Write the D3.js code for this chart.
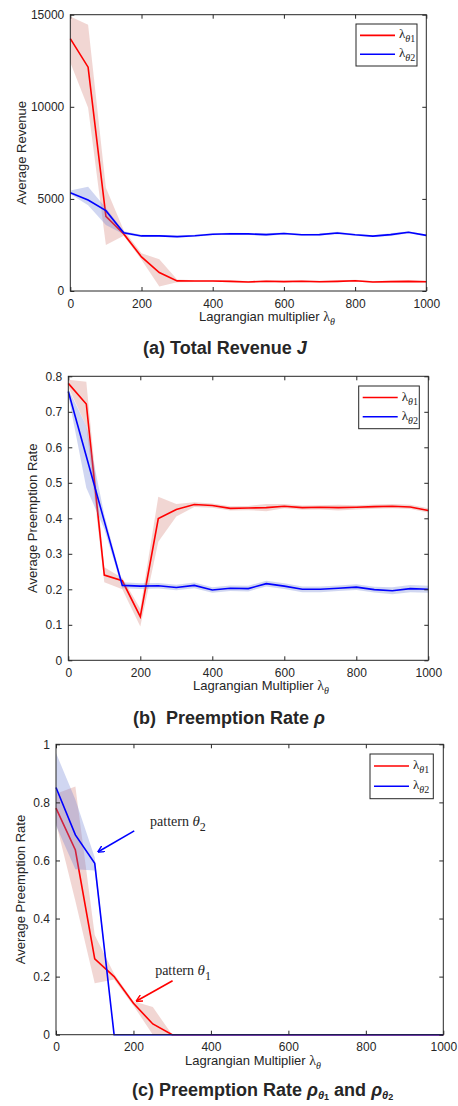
<!DOCTYPE html>
<html>
<head>
<meta charset="utf-8">
<script src="https://cdn.jsdelivr.net/npm/d3@7"></script>
<style>
  body { margin: 0; background: #fff; }
  svg { display: block; }
  text { font-family: Arial, "Liberation Sans", sans-serif; fill: #262626; }
</style>
</head>
<body>
<div id="chart"></div>
<script>
// x values shared by all three panels
const lambdas = [0, 50, 100, 150, 200, 250, 300, 350, 400, 450, 500, 550, 600, 650, 700, 750, 800, 850, 900, 950, 1000];

// (a) total revenue
const revRed   = [13700, 12150, 4050, 3100, 1850, 1000, 550, 540, 545, 520, 490, 530, 510, 530, 500, 520, 560, 490, 510, 520, 500];
const revRedLo = [12400, 9950, 2500, 3000, 1700, 250, 480, 490, 500, 470, 450, 480, 470, 480, 460, 470, 510, 450, 460, 470, 460];
const revRedHi = [14900, 14450, 5600, 3300, 2050, 1720, 620, 590, 590, 570, 540, 580, 560, 580, 550, 570, 610, 540, 560, 570, 550];
const revBlue   = [5340, 4940, 4360, 3165, 2990, 2990, 2950, 3000, 3080, 3110, 3100, 3060, 3120, 3050, 3060, 3150, 3050, 2980, 3060, 3190, 3020];
const revBlueLo = [5270, 4650, 3580, 3080, 2930, 2940, 2900, 2950, 3030, 3060, 3050, 2980, 3070, 3000, 3010, 3080, 3000, 2930, 2990, 3140, 2970];
const revBlueHi = [5450, 5660, 4500, 3250, 3050, 3040, 3000, 3050, 3130, 3160, 3150, 3140, 3170, 3100, 3110, 3220, 3100, 3030, 3130, 3240, 3070];

// (b) preemption rate
const preRed   = [0.780, 0.722, 0.240, 0.224, 0.123, 0.399, 0.425, 0.439, 0.436, 0.428, 0.429, 0.430, 0.434, 0.430, 0.431, 0.430, 0.431, 0.433, 0.434, 0.432, 0.422];
const preRedLo = [0.770, 0.660, 0.220, 0.200, 0.095, 0.334, 0.405, 0.432, 0.430, 0.422, 0.423, 0.420, 0.428, 0.424, 0.425, 0.422, 0.425, 0.427, 0.428, 0.426, 0.416];
const preRedHi = [0.790, 0.785, 0.262, 0.232, 0.145, 0.461, 0.440, 0.445, 0.442, 0.434, 0.435, 0.440, 0.440, 0.436, 0.437, 0.438, 0.437, 0.439, 0.440, 0.438, 0.428];
const preBlue   = [0.757, 0.575, 0.392, 0.211, 0.209, 0.210, 0.205, 0.211, 0.198, 0.203, 0.202, 0.216, 0.209, 0.200, 0.200, 0.203, 0.206, 0.199, 0.196, 0.202, 0.200];
const preBlueLo = [0.745, 0.486, 0.370, 0.203, 0.201, 0.202, 0.197, 0.203, 0.190, 0.195, 0.194, 0.208, 0.201, 0.192, 0.192, 0.195, 0.198, 0.191, 0.186, 0.192, 0.190];
const preBlueHi = [0.765, 0.660, 0.410, 0.220, 0.217, 0.218, 0.213, 0.219, 0.206, 0.211, 0.210, 0.224, 0.217, 0.208, 0.208, 0.211, 0.214, 0.207, 0.206, 0.212, 0.210];

// (c) preemption rate per pattern
const rhoRed   = [0.780, 0.636, 0.261, 0.200, 0.108, 0.037, 0, 0, 0, 0, 0, 0, 0, 0, 0, 0, 0, 0, 0, 0, 0];
const rhoRedLo = [0.730, 0.460, 0.177, 0.190, 0.100, 0, 0, 0, 0, 0, 0, 0, 0, 0, 0, 0, 0, 0, 0, 0, 0];
const rhoRedHi = [0.830, 0.855, 0.343, 0.210, 0.115, 0.095, 0, 0, 0, 0, 0, 0, 0, 0, 0, 0, 0, 0, 0, 0, 0];
const rhoBlue   = [0.851, 0.688, 0.590, 0, 0, 0, 0, 0, 0, 0, 0, 0, 0, 0, 0, 0, 0, 0, 0, 0, 0];
const rhoBlueLo = [0.720, 0.570, 0.565, 0, 0, 0, 0, 0, 0, 0, 0, 0, 0, 0, 0, 0, 0, 0, 0, 0, 0];
const rhoBlueHi = [0.970, 0.810, 0.610, 0, 0, 0, 0, 0, 0, 0, 0, 0, 0, 0, 0, 0, 0, 0, 0, 0, 0];

// tick labels
const xTicks = [0, 200, 400, 600, 800, 1000];
const revTicks = [0, 5000, 10000, 15000];
const preTicks = [0, 0.1, 0.2, 0.3, 0.4, 0.5, 0.6, 0.7, 0.8];
const rhoTicks = [0, 0.2, 0.4, 0.6, 0.8, 1];

// annotation arrows in panel c: [tail λ, tail ρ, tip λ, tip ρ, text λ, text ρ]
const noteTheta2 = [202, 0.702, 109, 0.630, 243, 0.720];
const noteTheta1 = [301, 0.186, 208, 0.116, 256, 0.206];

const W = 458, H = 1106;
const svg = d3.select("#chart").append("svg")
    .attr("width", W)
    .attr("height", H);

const defs = svg.append("defs");
["red", "blue"].forEach(c => {
    defs.append("marker")
        .attr("id", "arrow_" + c)
        .attr("viewBox", "0 0 10 10")
        .attr("refX", 9).attr("refY", 5)
        .attr("markerWidth", 7).attr("markerHeight", 7)
        .attr("markerUnits", "userSpaceOnUse")
        .attr("orient", "auto")
        .append("path")
        .attr("d", "M0,0 L10,5 L0,10")
        .attr("fill", "none")
        .attr("stroke", c === "red" ? "#ff0000" : "#0000ff")
        .attr("stroke-width", 2);
});

function band(lo, hi) {
    return lambdas.map((d, i) => ({x: d, lo: lo[i], hi: hi[i]}));
}

function drawPanel(p) {
    let x = d3.scaleLinear().domain([0, 1000]).range([p.left, p.right]);
    let y = d3.scaleLinear().domain(p.yDomain).range([p.bottom, p.top]);
    let g = svg.append("g");

    // shaded bands and mean lines
    let area = d3.area().x(d => x(d.x)).y0(d => y(d.lo)).y1(d => y(d.hi));
    let line = d3.line().x((d, i) => x(lambdas[i])).y(d => y(d));

    g.append("path").attr("d", area(band(p.redLo, p.redHi)))
        .attr("fill", "rgb(210,120,110)").attr("fill-opacity", 0.3);
    g.append("path").attr("d", line(p.red))
        .attr("fill", "none").attr("stroke", "#ff0000").attr("stroke-width", 1.6);
    g.append("path").attr("d", area(band(p.blueLo, p.blueHi)))
        .attr("fill", "rgb(100,120,210)").attr("fill-opacity", 0.3);
    g.append("path").attr("d", line(p.blue))
        .attr("fill", "none").attr("stroke", "#0000ff").attr("stroke-width", 1.6);

    // axes, ticks inside on all four sides
    let tl = 4;
    g.append("g").attr("transform", "translate(0," + p.bottom + ")")
        .call(d3.axisBottom(x).tickValues(xTicks).tickSizeInner(-tl).tickSizeOuter(0).tickPadding(8).tickFormat(d3.format("d")))
        .call(a => a.select(".domain").remove());
    g.append("g").attr("transform", "translate(0," + p.top + ")")
        .call(d3.axisTop(x).tickValues(xTicks).tickSizeInner(-tl).tickSizeOuter(0).tickFormat(""))
        .call(a => a.select(".domain").remove());
    g.append("g").attr("transform", "translate(" + p.left + ",0)")
        .call(d3.axisLeft(y).tickValues(p.yTicks).tickSizeInner(-tl).tickSizeOuter(0).tickPadding(6).tickFormat(d3.format("")))
        .call(a => a.select(".domain").remove());
    g.append("g").attr("transform", "translate(" + p.right + ",0)")
        .call(d3.axisRight(y).tickValues(p.yTicks).tickSizeInner(-tl).tickSizeOuter(0).tickFormat(""))
        .call(a => a.select(".domain").remove());
    g.selectAll(".tick line").attr("stroke", "#262626");
    g.selectAll(".tick text").style("font-size", "12px").attr("fill", "#262626")
        .style("font-family", "Arial, 'Liberation Sans', sans-serif");
    g.append("rect")
        .attr("x", p.left).attr("y", p.top)
        .attr("width", p.right - p.left).attr("height", p.bottom - p.top)
        .attr("fill", "none").attr("stroke", "#262626").attr("stroke-width", 1);

    // x label
    let xl = g.append("text").attr("x", p.xLabelX).attr("y", p.bottom + 30)
        .style("font-size", "13px");
    xl.append("tspan").text(p.xLabel + " ");
    xl.append("tspan").text("λ").style("font-family", "'Liberation Serif', serif").style("font-size", "14px");
    xl.append("tspan").text("θ").attr("dy", 4).style("font-family", "'Liberation Serif', serif")
        .style("font-style", "italic").style("font-size", "10px");

    // y label
    g.append("text")
        .attr("transform", "translate(" + p.yLabelX + "," + ((p.top + p.bottom) / 2) + ") rotate(-90)")
        .attr("text-anchor", "middle")
        .style("font-size", "13px")
        .text(p.yLabel);

    // legend
    let lg = g.append("g").attr("transform", "translate(" + p.legend[0] + "," + p.legend[1] + ")");
    lg.append("rect").attr("width", p.legend[2]).attr("height", p.legend[3])
        .attr("fill", "#fff").attr("stroke", "#262626").attr("stroke-width", 1);
    [["#ff0000", "1"], ["#0000ff", "2"]].forEach((s, i) => {
        let ly = p.legend[3] * (i === 0 ? 0.27 : 0.72);
        lg.append("line").attr("x1", 4).attr("x2", 39).attr("y1", ly).attr("y2", ly)
            .attr("stroke", s[0]).attr("stroke-width", 1.6);
        let t = lg.append("text").attr("x", 43).attr("y", ly + 3)
            .style("font-family", "'Liberation Serif', serif").style("font-size", "13px");
        t.append("tspan").text("λ");
        t.append("tspan").text("θ").attr("dy", 4).style("font-style", "italic").style("font-size", "10px");
        t.append("tspan").text(s[1]).style("font-size", "10px");
    });

    // caption
    let cap = svg.append("text").attr("x", p.capX).attr("y", p.capY)
        .style("font-size", "18px").style("font-weight", "bold").attr("fill", "#000");
    p.caption(cap);

    return {x: x, y: y, g: g};
}

function rhoSub(cap, n, back) {
    cap.append("tspan").text("ρ").style("font-style", "italic").attr("dy", back);
    cap.append("tspan").text("θ").attr("dy", 3).style("font-style", "italic").style("font-size", "11px");
    cap.append("tspan").text(n).attr("dy", 1).style("font-size", "9px");
}

drawPanel({
    left: 70.3, right: 426.3, top: 14.7, bottom: 291,
    yDomain: [0, 15000], yTicks: revTicks,
    red: revRed, redLo: revRedLo, redHi: revRedHi,
    blue: revBlue, blueLo: revBlueLo, blueHi: revBlueHi,
    xLabel: "Lagrangian multiplier", xLabelX: 199,
    yLabel: "Average Revenue", yLabelX: 26,
    legend: [356, 24, 61, 42],
    capX: 143, capY: 354,
    caption: c => {
        c.append("tspan").text("(a) Total Revenue ");
        c.append("tspan").text("J").style("font-style", "italic");
    }
});

drawPanel({
    left: 68.3, right: 428.3, top: 376.3, bottom: 660.3,
    yDomain: [0, 0.8], yTicks: preTicks,
    red: preRed, redLo: preRedLo, redHi: preRedHi,
    blue: preBlue, blueLo: preBlueLo, blueHi: preBlueHi,
    xLabel: "Lagrangian Multiplier", xLabelX: 193,
    yLabel: "Average Preemption Rate", yLabelX: 37,
    legend: [358.7, 386, 60.6, 42.7],
    capX: 133, capY: 724,
    caption: c => {
        c.append("tspan").text("(b)\u00a0 Preemption Rate ");
        c.append("tspan").text("ρ").style("font-style", "italic");
    }
});

let pc = drawPanel({
    left: 56, right: 443.3, top: 744.3, bottom: 1034.7,
    yDomain: [0, 1], yTicks: rhoTicks,
    red: rhoRed, redLo: rhoRedLo, redHi: rhoRedHi,
    blue: rhoBlue, blueLo: rhoBlueLo, blueHi: rhoBlueHi,
    xLabel: "Lagrangian Multiplier", xLabelX: 185,
    yLabel: "Average Preemption Rate", yLabelX: 25,
    legend: [370, 754, 63.3, 44.7],
    capX: 132, capY: 1096,
    caption: c => {
        c.append("tspan").text("(c) Preemption Rate ");
        rhoSub(c, "1", 0);
        c.append("tspan").text(" and ").attr("dy", -4);
        rhoSub(c, "2", 0);
    }
});

// annotations in panel c
[[noteTheta2, "#0000ff", "blue", "2"], [noteTheta1, "#ff0000", "red", "1"]].forEach(n => {
    let a = n[0];
    pc.g.append("line")
        .attr("x1", pc.x(a[0])).attr("y1", pc.y(a[1]))
        .attr("x2", pc.x(a[2])).attr("y2", pc.y(a[3]))
        .attr("stroke", n[1]).attr("stroke-width", 1.6)
        .attr("marker-end", "url(#arrow_" + n[2] + ")");
    let t = pc.g.append("text").attr("x", pc.x(a[4])).attr("y", pc.y(a[5]))
        .style("font-family", "'Liberation Serif', serif").style("font-size", "14px");
    t.append("tspan").text("pattern ");
    t.append("tspan").text("θ").style("font-style", "italic").style("font-size", "15px");
    t.append("tspan").text(n[3]).attr("dy", 5).style("font-size", "12px");
});
</script>
</body>
</html>
